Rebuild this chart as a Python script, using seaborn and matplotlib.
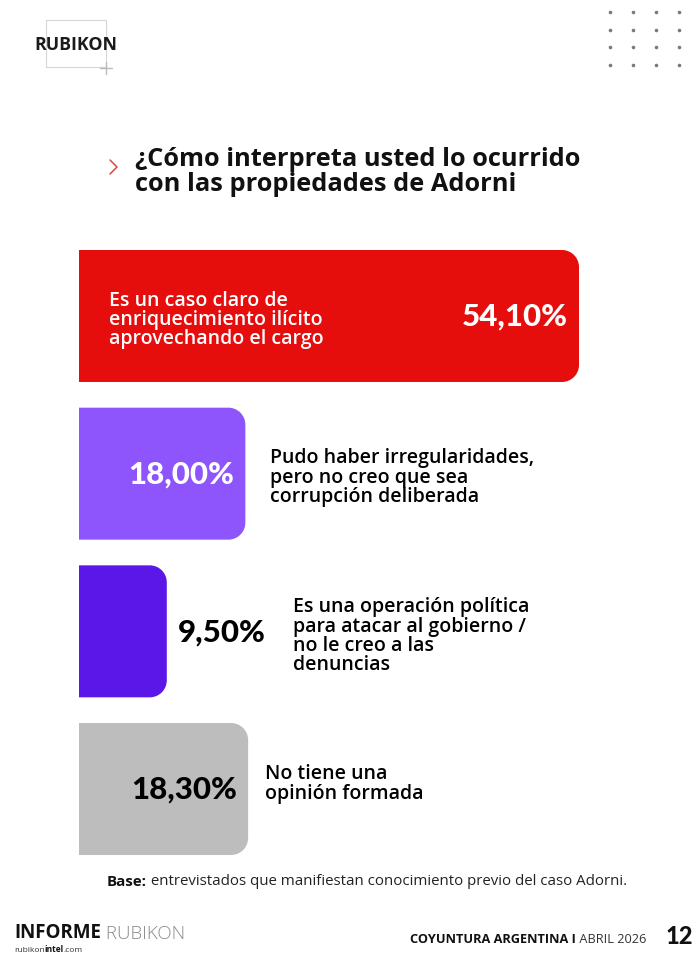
import matplotlib
matplotlib.use("Agg")
import matplotlib.pyplot as plt
from matplotlib.patches import PathPatch, Rectangle
from matplotlib.path import Path
from matplotlib.lines import Line2D
import seaborn as sns

# Data
categories = [
    "Es un caso claro de\nenriquecimiento ilícito\naprovechando el cargo",
    "Pudo haber irregularidades,\npero no creo que sea\ncorrupción deliberada",
    "Es una operación política\npara atacar al gobierno /\nno le creo a las\ndenuncias",
    "No tiene una\nopinión formada",
]
values = [54.10, 18.00, 9.50, 18.30]
value_labels = ["54,10%", "18,00%", "9,50%", "18,30%"]
bar_colors = ["#E60D0D", "#8D55FB", "#5B17E8", "#BDBDBD"]

title = "¿Cómo interpreta usted lo ocurrido\ncon las propiedades de Adorni"

W, H = 700, 954
FONT = "Open Sans"
NUM_FONT = "Lato"

sns.set_theme(style="white")
plt.rcParams["font.family"] = [FONT, "DejaVu Sans"]

fig = plt.figure(figsize=(W / 100, H / 100), dpi=100)
fig.patch.set_facecolor("white")

def fx(px):
    return px / W

def fy(py):
    return 1 - py / H

# axes: left 79px, right 620px, top 251px, bottom 856px
px_per_unit = 500 / 54.1
ax_left, ax_right, ax_top, ax_bot = 79, 620, 251, 856
ax = fig.add_axes([fx(ax_left), fy(ax_bot), (ax_right - ax_left) / W, (ax_bot - ax_top) / H])
bar_w = 0.837

sns.barplot(x=values, y=list(range(len(values))), hue=list(range(len(values))),
            palette=bar_colors, saturation=1, orient="h", width=bar_w,
            legend=False, ax=ax)
ax.set_xlim(0, (ax_right - ax_left) / px_per_unit)
ax.set_ylim(3 + bar_w / 2, -bar_w / 2)
ax.axis("off")

# replace rectangles by bars rounded on the right side
y_per_unit = (ax_bot - ax_top) / (3 + bar_w)
r_px = 17
rx = r_px / px_per_unit
ry = r_px / y_per_unit
k = 0.5523
for p in list(ax.patches):
    x0, y0 = p.get_x(), p.get_y()
    x1, y1 = x0 + p.get_width(), y0 + p.get_height()
    c = p.get_facecolor()
    p.set_visible(False)
    verts = [
        (x0, y0), (x1 - rx, y0),
        (x1 - rx + k * rx, y0), (x1, y0 + ry - k * ry), (x1, y0 + ry),
        (x1, y1 - ry),
        (x1, y1 - ry + k * ry), (x1 - rx + k * rx, y1), (x1 - rx, y1),
        (x0, y1), (x0, y0),
    ]
    codes = [Path.MOVETO, Path.LINETO,
             Path.CURVE4, Path.CURVE4, Path.CURVE4,
             Path.LINETO,
             Path.CURVE4, Path.CURVE4, Path.CURVE4,
             Path.LINETO, Path.CLOSEPOLY]
    ax.add_patch(PathPatch(Path(verts, codes), fc=c, ec="none", lw=0))

# labels
desc_kw = dict(fontsize=14, fontweight="semibold", linespacing=0.95)
num_kw = dict(fontsize=22.5, fontweight="black", family=[NUM_FONT, "DejaVu Sans"])
for i, (v, lab, cat) in enumerate(zip(values, value_labels, categories)):
    if i == 0:
        ax.annotate(lab, xy=(v, i), xytext=(-11, 0), textcoords="offset pixels",
                    ha="right", va="center", color="white", **num_kw)
        ax.annotate(cat, xy=(0, i), xytext=(30, -3), textcoords="offset pixels",
                    ha="left", va="center", color="white", **desc_kw)
    elif i == 2:
        t = ax.annotate(lab, xy=(v, i), xytext=(11, 0), textcoords="offset pixels",
                        ha="left", va="center", color="black", **num_kw)
        ax.annotate(cat, xy=(1, 0.5), xycoords=t, xytext=(27, -4), textcoords="offset pixels",
                    ha="left", va="center", color="black", **desc_kw)
    else:
        col = "white" if i == 1 else "black"
        ax.annotate(lab, xy=(v, i), xytext=(-11, 0), textcoords="offset pixels",
                    ha="right", va="center", color=col, **num_kw)
        off = 25 if i == 1 else 17
        dy = -3 if i == 1 else 6
        ax.annotate(cat, xy=(v, i), xytext=(off, dy), textcoords="offset pixels",
                    ha="left", va="center", color="black", **desc_kw)

# title
fig.text(fx(135), fy(172), title, ha="left", va="center", fontsize=18.3,
         fontweight="bold", color="#111111", linespacing=1.0)
fig.add_artist(Line2D([fx(110), fx(117), fx(110)], [fy(161), fy(168), fy(175)],
                      color="#D9483B", lw=1.1))

# logo
fig.add_artist(Rectangle((fx(46), fy(68)), fx(106) - fx(46), fy(21) - fy(68),
                         fill=False, ec="#D6D6D6", lw=0.8))
fig.add_artist(Line2D([fx(100), fx(112)], [fy(69), fy(69)], color="#BBBBBB", lw=1))
fig.add_artist(Line2D([fx(106), fx(106)], [fy(63), fy(75)], color="#BBBBBB", lw=1))
fig.text(fx(34), fy(45), "RUBIKON", ha="left", va="center", fontsize=12.8,
         fontweight="bold", color="#1A1A1A")

# dot grid
for dx in [610, 633, 656, 679]:
    for dy in [13, 31, 48, 66]:
        fig.add_artist(Line2D([fx(dx)], [fy(dy)], marker="o", ms=2.6,
                              color="#7A7A7A", mec="none"))

# base note
t1 = fig.text(fx(107), fy(889), "Base:", ha="left", va="bottom", fontsize=10.8,
              fontweight="bold", color="#111111")
fig.add_artist(plt.Annotation(" entrevistados que manifiestan conocimiento previo del caso Adorni.",
                              xy=(1, 0), xycoords=t1, ha="left", va="bottom",
                              fontsize=10.8, color="#222222"))

# footer
t2 = fig.text(fx(14), fy(938), "INFORME", ha="left", va="baseline", fontsize=13.5,
              fontweight="bold", color="#111111")
fig.add_artist(plt.Annotation(" RUBIKON", xy=(1, 0), xycoords=t2, ha="left", va="bottom",
                              fontsize=13.5, fontweight="light", color="#8A8A8A"))
t3 = fig.text(fx(14), fy(952), "rubikon", ha="left", va="baseline", fontsize=6, color="#333333")
t4 = fig.add_artist(plt.Annotation("intel", xy=(1, 0), xycoords=t3, ha="left", va="bottom",
                                   fontsize=6, fontweight="bold", color="#111111"))
fig.add_artist(plt.Annotation(".com", xy=(1, 0), xycoords=t4, ha="left", va="bottom",
                              fontsize=6, color="#333333"))
t5 = fig.text(fx(410), fy(943), "COYUNTURA ARGENTINA I", ha="left", va="baseline",
              fontsize=9.2, fontweight="bold", color="#111111")
fig.add_artist(plt.Annotation(" ABRIL 2026", xy=(1, 0), xycoords=t5, ha="left", va="bottom",
                              fontsize=9.2, color="#333333"))
fig.text(fx(693), fy(944), "12", ha="right", va="baseline", fontsize=17,
         fontweight="black", color="#111111", family=[NUM_FONT, "DejaVu Sans"])

fig.savefig("out.png", dpi=100, facecolor="white")
